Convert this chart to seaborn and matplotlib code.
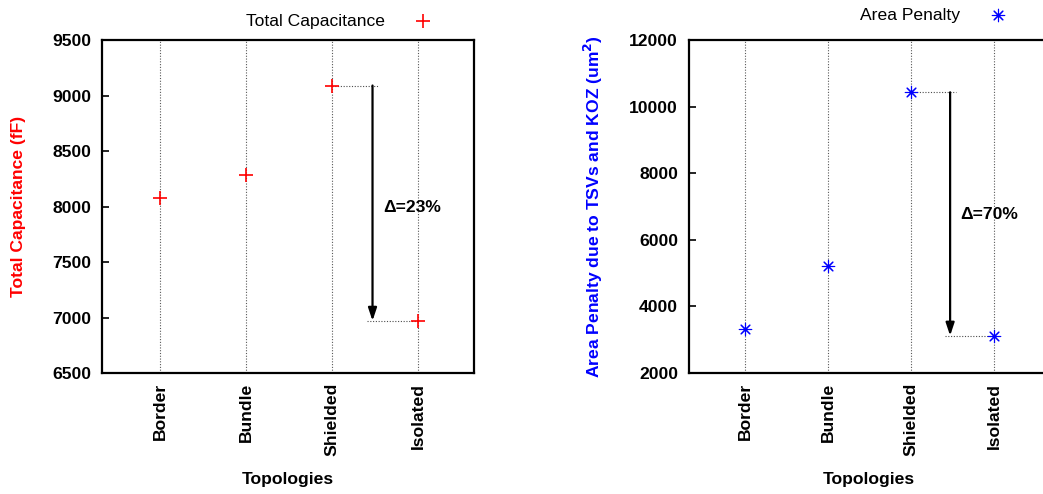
import numpy as np
import pandas as pd
import matplotlib
matplotlib.use('Agg')
import matplotlib.pyplot as plt
import seaborn as sns

# values
topologies = ['Border', 'Bundle', 'Shielded', 'Isolated']
capacitance = [8080, 8280, 9090, 6970]      # fF
area_penalty = [3330, 5220, 10430, 3120]    # um^2

cap_ticks = [6500, 7000, 7500, 8000, 8500, 9000, 9500]
area_ticks = [2000, 4000, 6000, 8000, 10000, 12000]

sns.set_theme(style='white')
plt.rcParams['font.family'] = ['Liberation Sans', 'DejaVu Sans']
fs = 12.6
plt.rcParams.update({
    'font.size': fs, 'axes.labelsize': fs, 'xtick.labelsize': fs,
    'ytick.labelsize': fs, 'legend.fontsize': fs,
    'text.color': 'black', 'axes.labelcolor': 'black',
    'xtick.color': 'black', 'ytick.color': 'black',
})

fig = plt.figure(figsize=(10.43, 4.94), dpi=100)
ax1 = fig.add_axes([0.0978, 0.2449, 0.3567, 0.6741])
ax2 = fig.add_axes([0.6606, 0.2449, 0.3443, 0.6741])

df1 = pd.DataFrame({'Topology': topologies, 'Value': capacitance})
df2 = pd.DataFrame({'Topology': topologies, 'Value': area_penalty})


def style_axes(ax, ticks, ylabel, ycolor, label_x):
    ax.set_xlim(-0.674, 3.65)
    ax.set_ylim(ticks[0], ticks[-1])
    ax.set_yticks(ticks)
    ax.set_xticks(range(len(topologies)))
    ax.set_xticklabels(topologies, rotation=90, fontweight='bold', va='top')
    for lbl in ax.get_yticklabels():
        lbl.set_fontweight('bold')
    ax.tick_params(axis='y', direction='in', length=5, width=1.2, pad=8, left=True)
    ax.tick_params(axis='x', length=0, pad=7)
    for sp in ax.spines.values():
        sp.set_visible(True)
        sp.set_linewidth(1.6)
        sp.set_color('black')
    for i in range(len(topologies)):
        ax.axvline(i, color='0.35', linestyle=(0, (1, 1.5)), linewidth=0.8, zorder=0)
    ax.set_ylabel(ylabel, color=ycolor, fontweight='bold')
    ax.yaxis.set_label_coords(label_x, 0.5)
    ax.set_xlabel('Topologies', fontweight='bold')
    ax.xaxis.set_label_coords(0.5, -0.297)


def draw_delta(ax, values, text_y):
    hi, lo = values[2], values[3]
    pct = round((hi - lo) / hi * 100)
    ax.plot([2, 2.54], [hi, hi], color='0.3', linestyle=(0, (1, 1.5)), linewidth=0.8)
    ax.plot([2.41, 3], [lo, lo], color='0.3', linestyle=(0, (1, 1.5)), linewidth=0.8)
    ax.annotate('', xy=(2.47, lo), xytext=(2.47, hi),
                arrowprops=dict(arrowstyle='-|>,head_length=0.6,head_width=0.2',
                                color='black', lw=1.6, shrinkA=0, shrinkB=0))
    ax.text(2.59, text_y, f'\u0394={pct}%', fontweight='bold', va='center', ha='left')


sns.scatterplot(data=df1, x='Topology', y='Value', ax=ax1, marker='+', color='#ff0000',
                s=90, linewidth=1.2, label='Total Capacitance', zorder=3)
sns.scatterplot(data=df2, x='Topology', y='Value', ax=ax2, marker=(8, 2, 0), color='#0000ff',
                s=80, linewidth=0.8, label='Area Penalty', zorder=3)

style_axes(ax1, cap_ticks, 'Total Capacitance (fF)', '#ff0000', -0.204)
style_axes(ax2, area_ticks, 'Area Penalty due to TSVs and KOZ (um$^\\mathbf{2}$)', '#0000ff', -0.234)

draw_delta(ax1, capacitance, 7990)
draw_delta(ax2, area_penalty, 6750)

ax1.legend(loc='center right', bbox_to_anchor=(0.887, 1.057), frameon=False, markerfirst=False,
           handlelength=1.0, handletextpad=1.7, borderpad=0, borderaxespad=0)
ax2.legend(loc='center right', bbox_to_anchor=(0.885, 1.075), frameon=False, markerfirst=False,
           handlelength=1.0, handletextpad=1.7, borderpad=0, borderaxespad=0)

fig.savefig('out.png', dpi=100)
